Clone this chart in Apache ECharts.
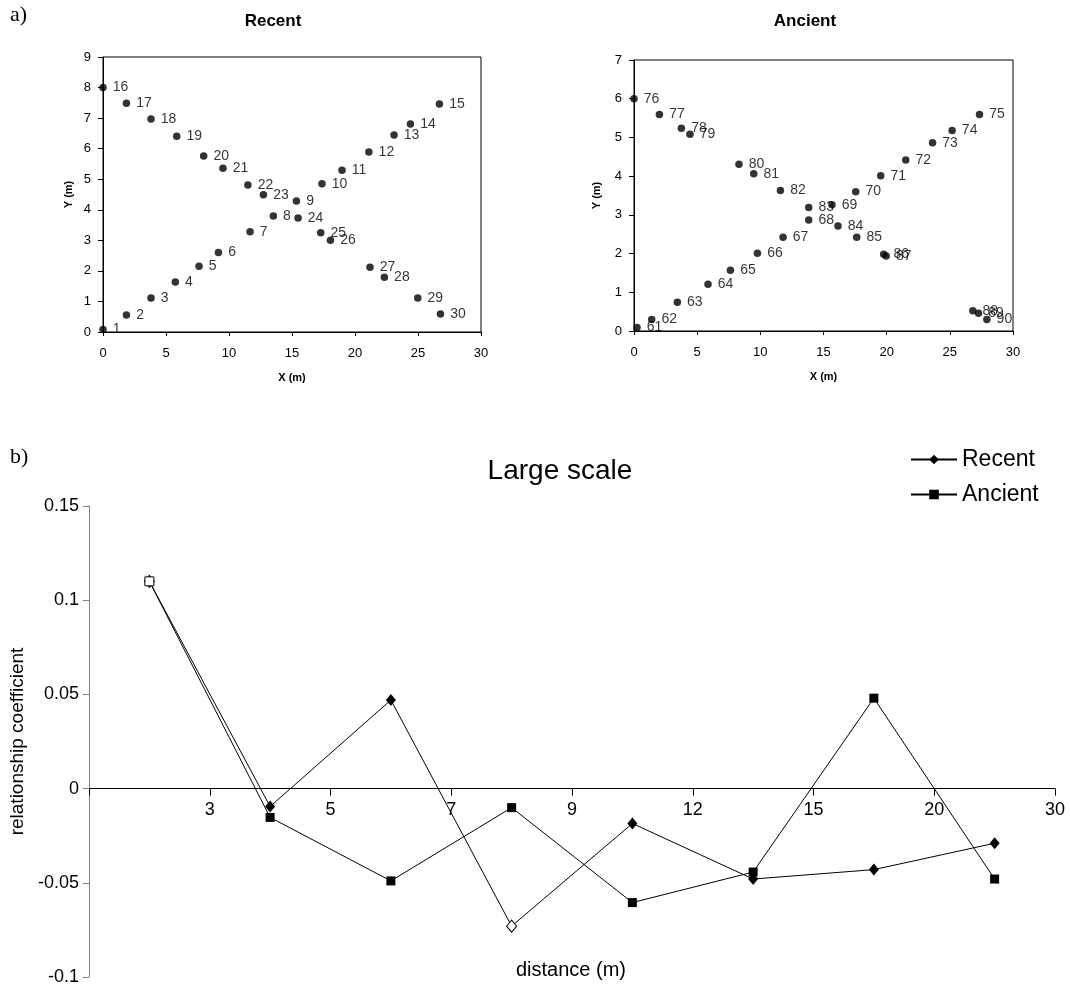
<!DOCTYPE html>
<html>
<head>
<meta charset="utf-8">
<script src="https://cdn.jsdelivr.net/npm/echarts@6/dist/echarts.min.js"></script>
<style>
html,body{margin:0;padding:0;background:#fff;}
#chart{width:1070px;height:986px;}
</style>
</head>
<body>
<div id="chart"></div>
<script>
// ---- data: panel a) point coordinates (m) ----
const recentIds = [1,2,3,4,5,6,7,8,9,10,11,12,13,14,15,16,17,18,19,20,21,22,23,24,25,26,27,28,29,30];
const recentX = [0,1.86,3.81,5.74,7.62,9.16,11.67,13.52,15.35,17.38,18.97,21.1,23.1,24.4,26.7,
                 0,1.86,3.81,5.85,7.99,9.52,11.5,12.73,15.48,17.28,18.05,21.19,22.33,24.98,26.78];
const recentY = [0.08,0.56,1.11,1.64,2.15,2.6,3.28,3.8,4.29,4.85,5.29,5.89,6.45,6.81,7.46,
                 8,7.49,6.97,6.41,5.76,5.36,4.81,4.49,3.73,3.25,3.0,2.12,1.79,1.11,0.59];

const ancientIds = [61,62,63,64,65,66,67,68,69,70,71,72,73,74,75,76,77,78,79,80,81,82,83,84,85,86,87,88,89,90];
const ancientX = [0.24,1.4,3.43,5.86,7.63,9.77,11.8,13.83,15.67,17.55,19.53,21.51,23.63,25.18,27.35,
                  0,2.01,3.75,4.43,8.31,9.48,11.59,13.83,16.15,17.63,19.76,19.96,26.82,27.27,27.93];
const ancientY = [0.09,0.3,0.74,1.21,1.57,2.01,2.42,2.87,3.26,3.6,4.01,4.42,4.86,5.18,5.59,
                  6.0,5.59,5.24,5.08,4.31,4.06,3.63,3.19,2.71,2.42,1.98,1.94,0.52,0.46,0.3];

// ---- data: panel b) relationship coefficient by distance class ----
const distanceTicks = ['3','5','7','9','12','15','20','30'];
const recentCoef  = [0.11,-0.0095,0.047,-0.073,-0.0185,-0.048,-0.043,-0.029];
const ancientCoef = [0.11,-0.0153,-0.049,-0.0101,-0.0605,-0.0443,0.048,-0.048];
const recentOpen  = [0,3];   // indices drawn with hollow markers
const ancientOpen = [0];
const coefMin = -0.1, coefMax = 0.15, coefStep = 0.05;

const SANS = "'Liberation Sans', Arial, Helvetica, sans-serif";
const SERIF = "'Liberation Serif', 'Times New Roman', serif";

const gridB = {left:89, top:506, width:966, height:471};
// shift the distance axis up so it sits on the y = 0 line
const zeroOffset = -gridB.height * (0 - coefMin) / (coefMax - coefMin);

function pts(ids, xs, ys){
  return ids.map((id,i)=>({name:String(id), value:[xs[i], ys[i]]}));
}
function coefPts(vals, open){
  return vals.map((v,i)=>{
    const d = {value:[i+0.5, v]};
    if (open.indexOf(i) >= 0) d.itemStyle = {color:'#fff', borderColor:'#000', borderWidth:1};
    return d;
  });
}

function scatterX(gi){
  return {
    gridIndex: gi, type:'value', min:0, max:30, interval:5,
    axisLine:{onZero:false, lineStyle:{color:'#000', width:1}},
    axisTick:{show:true, length:4, lineStyle:{color:'#000'}},
    axisLabel:{color:'#000', fontSize:13, fontFamily:SANS, margin:15},
    splitLine:{show:false},
    name:'X (m)', nameLocation:'middle', nameGap:40,
    nameTextStyle:{color:'#000', fontSize:11, fontWeight:'bold', fontFamily:SANS}
  };
}
function scatterY(gi, max, gap){
  return {
    gridIndex: gi, type:'value', min:0, max:max, interval:1,
    axisLine:{onZero:false, lineStyle:{color:'#000', width:1}},
    axisTick:{show:true, length:5, lineStyle:{color:'#000'}},
    axisLabel:{color:'#000', fontSize:13, fontFamily:SANS, margin:12},
    splitLine:{show:false},
    name:'Y (m)', nameLocation:'middle', nameGap:gap, nameRotate:90,
    nameTextStyle:{color:'#000', fontSize:11, fontWeight:'bold', fontFamily:SANS}
  };
}
function scatterSeries(name, gi, data){
  return {
    name:name, type:'scatter', xAxisIndex:gi, yAxisIndex:gi,
    symbol:'circle', symbolSize:7.5,
    itemStyle:{color:'#000'},
    label:{show:true, position:'right', distance:6, formatter:'{b}',
           color:'#000', fontSize:14, fontFamily:SANS},
    data:data, silent:true
  };
}

const chart = echarts.init(document.getElementById('chart'), null, {renderer:'canvas'});
const option = {
  animation:false,
  backgroundColor:'#fff',
  textStyle:{fontFamily:SANS},
  grid:[
    {left:103, top:57, width:378, height:275, show:true, borderColor:'#000', borderWidth:1, backgroundColor:'transparent', outerBoundsMode:'none', containLabel:false},
    {left:634, top:60, width:379, height:271, show:true, borderColor:'#000', borderWidth:1, backgroundColor:'transparent', outerBoundsMode:'none', containLabel:false},
    Object.assign({outerBoundsMode:'none', containLabel:false}, gridB)
  ],
  xAxis:[
    scatterX(0),
    scatterX(1),
    {
      gridIndex:2, type:'value', min:0, max:distanceTicks.length, interval:1,
      position:'bottom', offset:zeroOffset,
      axisLine:{onZero:false, lineStyle:{color:'#000', width:1}},
      axisTick:{show:true, length:7, lineStyle:{color:'#000'}},
      axisLabel:{color:'#000', fontSize:18, fontFamily:SANS, margin:12,
                 formatter:function(v){ return v>=1 ? distanceTicks[Math.round(v)-1] : ''; }},
      splitLine:{show:false}
    }
  ],
  yAxis:[
    scatterY(0, 9, 29),
    scatterY(1, 7, 32),
    {
      gridIndex:2, type:'value', min:coefMin, max:coefMax, interval:coefStep,
      axisLine:{onZero:false, lineStyle:{color:'#808080', width:1}},
      axisTick:{show:true, length:6, lineStyle:{color:'#808080'}},
      axisLabel:{color:'#000', fontSize:18, fontFamily:SANS, margin:10},
      splitLine:{show:false},
      name:'relationship coefficient', nameLocation:'middle', nameGap:60, nameRotate:90,
      nameTextStyle:{color:'#000', fontSize:19, fontFamily:SANS}
    }
  ],
  legend:{
    data:['Recent','Ancient'], orient:'vertical', left:905, top:443,
    itemWidth:46, itemHeight:12, itemGap:12,
    textStyle:{color:'#000', fontSize:23, fontFamily:SANS}
  },
  series:[
    scatterSeries('recentPts', 0, pts(recentIds, recentX, recentY)),
    scatterSeries('ancientPts', 1, pts(ancientIds, ancientX, ancientY)),
    {
      name:'Recent', type:'line', xAxisIndex:2, yAxisIndex:2,
      symbol:'diamond', symbolSize:[10,12], showAllSymbol:true,
      lineStyle:{color:'#000', width:1}, itemStyle:{color:'#000'},
      data:coefPts(recentCoef, recentOpen), z:2
    },
    {
      name:'Ancient', type:'line', xAxisIndex:2, yAxisIndex:2,
      symbol:'rect', symbolSize:9, showAllSymbol:true,
      lineStyle:{color:'#000', width:1}, itemStyle:{color:'#000'},
      data:coefPts(ancientCoef, ancientOpen), z:3
    }
  ],
  graphic:[
    {type:'text', left:10, top:4, style:{text:'a)', font:'22px '+SERIF, fill:'#000'}},
    {type:'text', left:10, top:446, style:{text:'b)', font:'22px '+SERIF, fill:'#000'}},
    {type:'text', x:273, y:21, style:{text:'Recent', font:'bold 17px '+SANS, fill:'#000', textAlign:'center', textVerticalAlign:'middle'}},
    {type:'text', x:805, y:21, style:{text:'Ancient', font:'bold 17px '+SANS, fill:'#000', textAlign:'center', textVerticalAlign:'middle'}},
    {type:'text', x:560, y:471, style:{text:'Large scale', font:'28px '+SANS, fill:'#000', textAlign:'center', textVerticalAlign:'middle'}},
    {type:'text', x:571, y:970, style:{text:'distance (m)', font:'20px '+SANS, fill:'#000', textAlign:'center', textVerticalAlign:'middle'}}
  ]
};
chart.setOption(option);
</script>
</body>
</html>
